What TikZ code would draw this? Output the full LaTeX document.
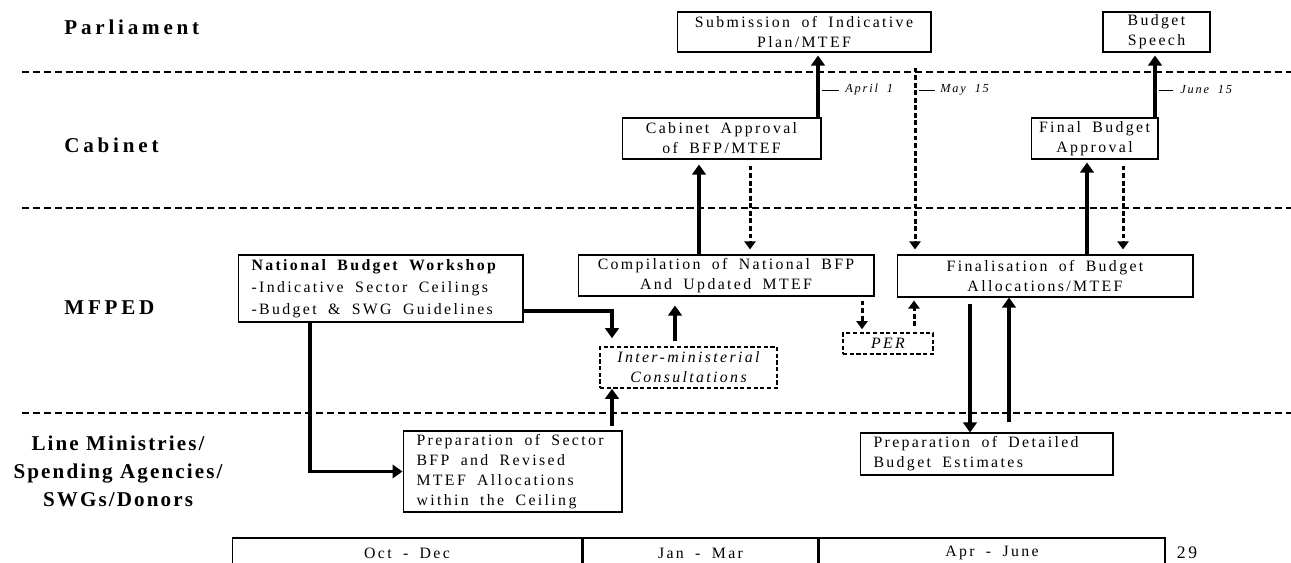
\documentclass[tikz,border=0pt]{standalone}
\usepackage{fontspec}
\setmainfont{Liberation Serif}
\newfontfamily\boxfont{Liberation Serif}[LetterSpace=15,WordSpace=1.8]
\newfontfamily\lanefont{Liberation Serif}[LetterSpace=18]
\newfontfamily\lanefontb{Liberation Serif}[LetterSpace=10]
\usetikzlibrary{arrows.meta,calc}
\tikzset{
  sep_l/.style = {line width=0.75pt, dash pattern=on 4pt off 2.2pt},
  box_n/.style = {draw, line width=0.6pt, inner sep=0pt, align=center, font=\boxfont\fontsize{9}{11.4}\selectfont},
  box_d/.style = {box_n, line width=0.9pt, dash pattern=on 2.4pt off 1.4pt, font=\boxfont\itshape\fontsize{9}{11.4}\selectfont},
  box_l/.style = {box_n, align=left, inner xsep=0.27cm, execute at begin node={\spaceskip=0pt\xspaceskip=0pt}},
  lane_l/.style = {font=\lanefont\bfseries\fontsize{12}{16}\selectfont, align=center, inner sep=0pt},
  date_l/.style = {font=\boxfont\itshape\fontsize{7}{8}\selectfont, inner sep=0pt, anchor=west},
  qtr_n/.style = {draw, line width=0.6pt, inner sep=0pt, minimum height=0.6cm, font=\boxfont\fontsize{9}{10}\selectfont},
  arr_s/.style = {line width=2.2pt, -{Triangle[width=0.27cm,length=0.2cm]}},
  arr_d/.style = {line width=1.7pt, dash pattern=on 2.8pt off 1.5pt, -{Triangle[width=0.22cm,length=0.16cm]}},
  tick_l/.style = {line width=0.5pt}
}

\begin{document}
\begin{tikzpicture}[x=0.02cm, y=-0.02cm]
\useasboundingbox (0,0) rectangle (1291,563);
\draw[sep_l] (22,72) -- (1291,72);
\draw[sep_l] (22,208) -- (1291,208);
\draw[sep_l] (22,413) -- (1291,413);

\node[lane_l, anchor=west] (parl) at (64,27) {Parliament};
\node[lane_l, anchor=west] (cab) at (64,145) {Cabinet};
\node[lane_l, anchor=west] (mfped) at (64,308) {MFPED};
\node[lane_l, font=\lanefontb\bfseries\fontsize{12}{16}\selectfont] (linem) at (118,471) {Line Ministries/\\Spending Agencies/\\SWGs/Donors};

\node[box_n, minimum width=5.08cm, minimum height=0.8cm] (sub) at (804,32) {Submission of Indicative\\Plan/MTEF};
\node[box_n, minimum width=2.14cm, minimum height=0.8cm] (speech) at (1156.5,32) {Budget\\Speech};
\node[box_n, minimum width=3.98cm, minimum height=0.82cm] (cabappr) at (721.5,138.5) {Cabinet Approval\\of BFP/MTEF};
\node[box_n, minimum width=2.54cm, minimum height=0.82cm] (finappr) at (1094.5,138.5) {Final Budget\\Approval};
\node[box_l, text width=5.16cm, minimum height=1.34cm, font=\boxfont\fontsize{9}{12.5}\selectfont] (nbw) at (380.5,288.5) {\textbf{National Budget Workshop}\\-Indicative Sector Ceilings\\-Budget \& SWG Guidelines};
\node[box_n, minimum width=5.92cm, minimum height=0.82cm] (comp) at (726,275.5) {Compilation of National BFP\\And Updated MTEF};
\node[box_n, minimum width=5.92cm, minimum height=0.84cm] (fin) at (1045,276) {Finalisation of Budget\\Allocations/MTEF};
\node[box_d, minimum width=3.54cm, minimum height=0.82cm] (imc) at (688.5,367.5) {Inter-ministerial\\Consultations};
\node[box_d, minimum width=1.8cm, minimum height=0.42cm] (per) at (888,343.5) {PER};
\node[box_l, text width=3.84cm, minimum height=1.62cm] (sect) at (512.5,471.5) {Preparation of Sector\\BFP and Revised\\MTEF Allocations\\within the Ceiling};
\node[box_l, text width=4.52cm, minimum height=0.84cm] (det) at (986.5,454) {Preparation of Detailed\\Budget Estimates};

\node[qtr_n, minimum width=7cm] (q1) at (407,553) {Oct - Dec};
\node[qtr_n, minimum width=4.7cm, anchor=west] (q2) at (q1.east) {Jan - Mar};
\node[qtr_n, minimum width=6.92cm, anchor=west] (q3) at (q2.east) {Apr - June};
\node[font=\boxfont\fontsize{10}{12}\selectfont] (pg) at (1187,553) {29};

\node[date_l] (apr) at (845,90) {April 1};
\node[date_l] (may) at (940,90) {May 15};
\node[date_l] (jun) at (1180,90) {June 15};

\coordinate (xa) at (699,0);
\coordinate (xb) at (750,0);
\coordinate (xc) at (818,0);
\coordinate (xd) at (915,0);
\coordinate (xe) at (1087,0);
\coordinate (xf) at (1123,0);
\coordinate (xg) at (1155,0);
\coordinate (xh) at (970,0);
\coordinate (xi) at (1009,0);
\coordinate (xj) at (862,0);
\coordinate (xk) at (914,0);
\coordinate (xl) at (612,0);
\coordinate (xm) at (675,0);
\coordinate (xn) at (310,0);

\draw[arr_s, shorten >=0.1cm] (comp.north -| xa) -- (cabappr.south -| xa);
\draw[arr_d, shorten <=0.12cm, shorten >=0.1cm] (cabappr.south -| xb) -- (comp.north -| xb);
\draw[arr_s, shorten >=0.06cm] (cabappr.north -| xc) -- (sub.south -| xc);
\draw[arr_d, shorten <=0.3cm, shorten >=0.1cm] (sub.south -| xd) -- (fin.north -| xd);
\draw[arr_s, shorten >=0.06cm] (fin.north -| xe) -- (finappr.south -| xe);
\draw[arr_d, shorten <=0.12cm, shorten >=0.1cm] (finappr.south -| xf) -- (fin.north -| xf);
\draw[arr_s, shorten >=0.06cm] (finappr.north -| xg) -- (speech.south -| xg);
\draw[arr_s, shorten <=0.12cm] (fin.south -| xh) -- (det.north -| xh);
\draw[arr_s, shorten <=0.2cm] (det.north -| xi) -- (fin.south -| xi);
\draw[arr_d, shorten <=0.08cm, shorten >=0.06cm] (comp.south -| xj) -- (per.north -| xj);
\draw[arr_d, shorten <=0.12cm, shorten >=0.06cm] (per.north -| xk) -- (fin.south -| xk);
\draw[arr_s, shorten >=0.16cm] ([yshift=-0.45cm]nbw.east) -| (imc.north -| xl);
\draw[arr_s, shorten <=0.1cm, shorten >=0.18cm] (imc.north -| xm) -- (comp.south -| xm);
\draw[arr_s, shorten <=0.08cm] (sect.north -| xl) -- (imc.south -| xl);
\draw[arr_s] (nbw.south -| xn) |- (sect.west);

\draw[tick_l, shorten <=0.08cm, shorten >=0.12cm] (apr.west -| xc) -- (apr.west);
\draw[tick_l, shorten <=0.08cm, shorten >=0.1cm] (may.west -| xd) -- (may.west);
\draw[tick_l, shorten <=0.08cm, shorten >=0.14cm] (jun.west -| xg) -- (jun.west);
\end{tikzpicture}
\end{document}
